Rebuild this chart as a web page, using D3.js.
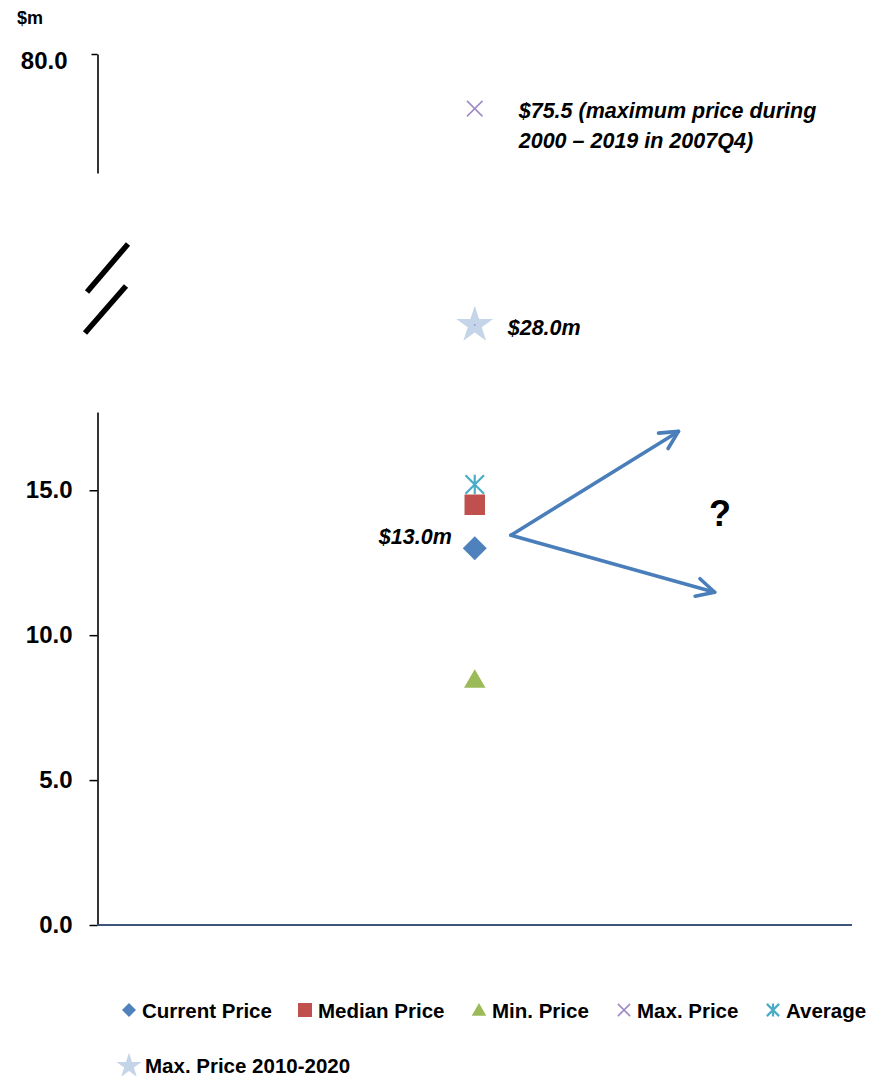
<!DOCTYPE html>
<html>
<head>
<meta charset="utf-8">
<script src="https://cdn.jsdelivr.net/npm/d3@7"></script>
<style>
  html, body { margin: 0; padding: 0; background: #fff; }
  svg { display: block; font-family: "Liberation Sans", Arial, sans-serif; }
</style>
</head>
<body>
<svg id="chart" width="886" height="1076"></svg>
<script>
// ---- data ----
const categories = ["Price"];
const seriesNames = ["Current Price", "Median Price", "Min. Price", "Max. Price", "Average", "Max. Price 2010-2020"];
const seriesValues = [13.0, 14.5, 8.5, 75.5, 15.2, 28.0];
const seriesColors = ["#4f81bd", "#c0504d", "#9bbb59", "#9f8bc6", "#4bacc6", "#c5d5e9"];
const lowerTicks = [0, 5, 10, 15];
const upperTicks = [80];
const valueLabels = [
  { series: 0, lines: ["$13.0m"] },
  { series: 5, lines: ["$28.0m"] },
  { series: 3, lines: ["$75.5 (maximum price during", "2000 \u2013 2019 in 2007Q4)"] }
];
// scenario arrows: start / end values (in $m) and relative x position across the plot
const arrowStart = { xf: 0.548, v: 13.45 };
const arrowEnds = [{ xf: 0.770, v: 17.03 }, { xf: 0.818, v: 11.48 }];

// ---- layout ----
const svg = d3.select("#chart");
const plotLeft = 97.5, plotRight = 852;
const x = d3.scaleBand().domain(categories).range([plotLeft, plotRight]);
const xf = d3.scaleLinear().domain([0, 1]).range([plotLeft, plotRight]);

// broken value axis: lower segment 0–17.7, break, upper segment 70.2–80
const y = d3.scaleLinear().domain([0, 17.7, 28, 70.2, 80]).range([925, 412, 325, 173, 54]);
const yLower = d3.scaleLinear().domain([0, 17.7]).range([925, 412]);
const yUpper = d3.scaleLinear().domain([70.2, 80]).range([173, 54]);

// lower axis
const gL = svg.append("g").attr("transform", `translate(${plotLeft},0)`)
  .call(d3.axisLeft(yLower).tickValues(lowerTicks).tickSize(8).tickSizeOuter(0)
    .tickPadding(17).tickFormat(d3.format(".1f")));
// upper axis
const gU = svg.append("g").attr("transform", `translate(${plotLeft},0)`)
  .call(d3.axisLeft(yUpper).tickValues(upperTicks).tickSize(6).tickSizeOuter(0)
    .tickPadding(24).tickFormat(d3.format(".1f")));
[gL, gU].forEach(g => {
  g.select(".domain").attr("stroke", "#000").attr("stroke-width", 1.6);
  g.selectAll(".tick line").attr("stroke", "#000").attr("stroke-width", 1.5);
  g.selectAll(".tick text").attr("fill", "#000").attr("font-size", 24).attr("font-weight", "bold")
    .attr("font-family", "'Liberation Sans', Arial, sans-serif");
});
gU.selectAll(".tick text").attr("dy", "0.62em");

// x axis (baseline)
svg.append("line").attr("x1", plotLeft).attr("x2", plotRight)
  .attr("y1", yLower(0)).attr("y2", yLower(0))
  .attr("stroke", "#3d5578").attr("stroke-width", 2.2);

// axis unit
svg.append("text").attr("x", 17).attr("y", 24).attr("font-size", 18).attr("font-weight", "bold").text("$m");

// break marks
const breaks = [[87, 292, 128, 244], [85, 333, 126, 286]];
svg.selectAll(".brk").data(breaks).enter().append("line")
  .attr("x1", d => d[0]).attr("y1", d => d[1]).attr("x2", d => d[2]).attr("y2", d => d[3])
  .attr("stroke", "#000").attr("stroke-width", 5.5);

// ---- markers ----
const symX = { draw(c, size) { const r = Math.sqrt(size) / 2;
  c.moveTo(-r, -r); c.lineTo(r, r); c.moveTo(r, -r); c.lineTo(-r, r); } };
const symStarX = { draw(c, size) { const r = Math.sqrt(size) / 2;
  c.moveTo(-r, -r); c.lineTo(r, r); c.moveTo(r, -r); c.lineTo(-r, r);
  c.moveTo(0, -r * 1.05); c.lineTo(0, r * 1.05); } };
const cx = x(categories[0]) + x.bandwidth() / 2;
const symbolTypes = [d3.symbolDiamond2, d3.symbolSquare, d3.symbolTriangle, symX, symStarX, d3.symbolStar];
const plotSizes = [367, 420, 200, 240, 340, 420];
const legendSizes = [125, 196, 92, 150, 150, 200];
const isStroke = i => i === 3 || i === 4;

function drawSymbol(g, i, size, px, py) {
  const p = g.append("path")
    .attr("d", d3.symbol().type(symbolTypes[i]).size(size)())
    .attr("transform", `translate(${px},${py})`);
  if (isStroke(i)) p.attr("fill", "none").attr("stroke", seriesColors[i]).attr("stroke-width", i === 3 ? 1.6 : 2.2);
  else p.attr("fill", seriesColors[i]);
  return p;
}
const gm = svg.append("g");
seriesValues.forEach((v, i) => {
  const py = y(v) + (i === 2 ? 3 : 0);
  drawSymbol(gm, i, plotSizes[i], cx, py);
});
// tiny centre dot of star marker
gm.append("circle").attr("cx", cx).attr("cy", y(seriesValues[5])).attr("r", 0.8).attr("fill", "#8b7aa8");

// ---- value labels ----
const labelStyle = s => s.attr("font-size", 21.5).attr("font-weight", "bold").attr("font-style", "italic").attr("fill", "#000");
valueLabels.forEach(l => {
  const v = seriesValues[l.series];
  let tx, anchor;
  if (l.series === 0) { tx = cx - 23; anchor = "end"; }
  else if (l.series === 5) { tx = cx + 33; anchor = "start"; }
  else { tx = cx + 44; anchor = "start"; }
  const t = svg.append("text").attr("text-anchor", anchor).call(labelStyle);
  l.lines.forEach((ln, k) => {
    t.append("tspan").attr("x", tx).attr("y", y(v) + (l.series === 0 ? -12 : 2) + 7.5 + k * 30).text(ln);
  });
});

// ---- scenario arrows ----
const ga = svg.append("g").attr("stroke", "#4a7ebb").attr("stroke-width", 3.6)
  .attr("stroke-linecap", "round").attr("stroke-linejoin", "round").attr("fill", "none");
const sx = xf(arrowStart.xf), sy = yLower(arrowStart.v);
arrowEnds.forEach(e => {
  const ex = xf(e.xf), ey = yLower(e.v);
  ga.append("line").attr("x1", sx).attr("y1", sy).attr("x2", ex).attr("y2", ey);
  const ang = Math.atan2(sy - ey, sx - ex);
  const L = 20, a = 27 * Math.PI / 180;
  const p1 = [ex + L * Math.cos(ang + a), ey + L * Math.sin(ang + a)];
  const p2 = [ex + L * Math.cos(ang - a), ey + L * Math.sin(ang - a)];
  ga.append("path").attr("d", `M${p1[0]},${p1[1]}L${ex},${ey}L${p2[0]},${p2[1]}`);
});
svg.append("text").attr("x", 720).attr("y", 526).attr("text-anchor", "middle")
  .attr("font-size", 36).attr("font-weight", "bold").text("?");

// ---- legend ----
const legendPos = [
  { sx: 129, tx: 142, y: 1010 },
  { sx: 305, tx: 318, y: 1010 },
  { sx: 479, tx: 492, y: 1010 },
  { sx: 624, tx: 637, y: 1010 },
  { sx: 773, tx: 786, y: 1010 },
  { sx: 129, tx: 145, y: 1065 }
];
const gl = svg.append("g");
seriesNames.forEach((name, i) => {
  const p = legendPos[i];
  drawSymbol(gl, i, legendSizes[i], p.sx, p.y + (i === 2 ? 1.5 : 0) + (i === 5 ? 1 : 0));
  gl.append("text").attr("x", p.tx).attr("y", p.y + 7.5)
    .attr("font-size", 20.5).attr("font-weight", "bold").attr("fill", "#000").text(name);
});
</script>
</body>
</html>
